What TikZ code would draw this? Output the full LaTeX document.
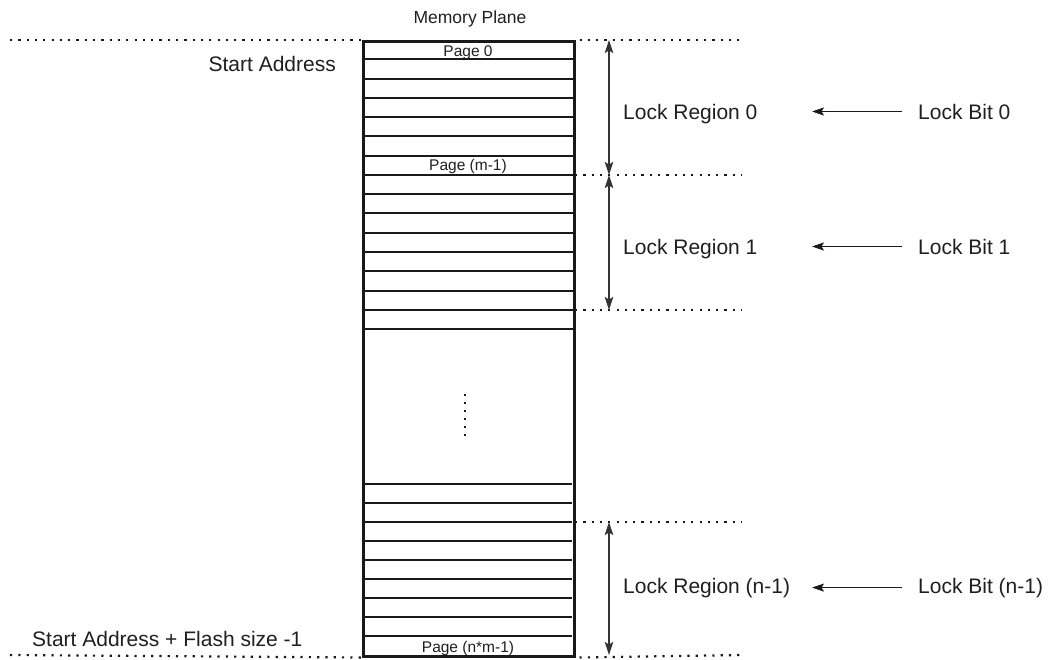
\documentclass[tikz,border=0pt]{standalone}
\usepackage{fontspec}
\setmainfont{Liberation Sans}
\usetikzlibrary{arrows.meta}
\begin{document}
\begin{tikzpicture}[x=1pt,y=-1pt,
  lbl/.style={font=\fontsize{21}{24}\selectfont, inner sep=0pt, anchor=base west, text=black!88},
  pagelbl/.style={font=\fontsize{15.5}{18}\selectfont, inner sep=0pt, anchor=base, text=black!88},
  dotline/.style={line width=2.2pt, dash pattern=on 2.2pt off 6.1pt, black!90},
  pageline/.style={line width=2pt, black!90},
  dimarrow/.style={line width=1.2pt, black!80, {Stealth[length=13pt,width=8.5pt,inset=2.5pt]}-{Stealth[length=13pt,width=8.5pt,inset=2.5pt]}},
  bitarrow/.style={line width=1.1pt, black!90, -{Stealth[length=12pt,width=8pt,inset=2.5pt]}}
]
\useasboundingbox (0,0) rectangle (1049,659);

% memory plane
\node[draw, line width=2.5pt, black!90, minimum width=211pt, minimum height=615pt, inner sep=0pt, anchor=north west] (plane) at (362,40) {};
\foreach \k in {1,...,15} \draw[pageline] (362,{40+\k*19.27}) -- (573,{40+\k*19.27});
\foreach \k in {1,...,9} \draw[pageline] (362,{655-\k*19}) -- (572,{655-\k*19});
\foreach \i in {0,...,5} \fill[black!90] (464,{393.5+8*\i}) rectangle ++(2.3,2.3);

% labels
\node[font=\fontsize{17.5}{20}\selectfont, inner sep=0pt, anchor=base, text=black!88] (title) at (470,23) {Memory Plane};
\node[pagelbl] (p0) at (468,56) {Page 0};
\node[pagelbl] (pm) at (468,170.5) {Page (m-1)};
\node[pagelbl] (pn) at (468,652) {Page (n*m-1)};
\node[lbl, anchor=base east] (sa) at (336,71) {Start Address};
\node[lbl] (sae) at (32,646) {Start Address + Flash size -1};

% dotted boundary lines
\coordinate (L0) at (10,40);
\coordinate (L4) at (10,655);
\coordinate (R0) at (742,40);
\coordinate (B1) at (575,175);
\coordinate (R1) at (742,175);
\coordinate (B2) at (575,310);
\coordinate (R2) at (742,310);
\coordinate (B3) at (575,522);
\coordinate (R3) at (742,522);
\coordinate (R4) at (742,655);
\draw[dotline] (L0) -- (plane.north west);
\draw[dotline] (L4) -- (plane.south west);
\draw[dotline] ([xshift=4pt]plane.north east) -- (R0);
\draw[dotline] (B1) -- (R1);
\draw[dotline] (B2) -- (R2);
\draw[dotline] (B3) -- (R3);
\draw[dotline] ([xshift=4pt]plane.south east) -- (R4);

% lock region extents
\coordinate (a0) at (609,40);
\coordinate (a1) at (609,175);
\coordinate (a2) at (609,310);
\coordinate (a3) at (609,522);
\coordinate (a4) at (609,655);
\draw[dimarrow] (a0) -- (a1);
\draw[dimarrow] (a1) -- (a2);
\draw[dimarrow] (a3) -- (a4);

% lock regions and bits
\node[lbl] (lr0) at (623,119) {Lock Region 0};
\node[lbl] (lr1) at (623,254) {Lock Region 1};
\node[lbl] (lrn) at (623,593) {Lock Region (n-1)};
\node[lbl] (lb0) at (918,119) {Lock Bit 0};
\node[lbl] (lb1) at (918,254) {Lock Bit 1};
\node[lbl] (lbn) at (918,593) {Lock Bit (n-1)};
\coordinate (tip) at (812,0);
\draw[bitarrow, shorten <=16pt] (lb0.west) -- (lb0.west -| tip);
\draw[bitarrow, shorten <=16pt] (lb1.west) -- (lb1.west -| tip);
\draw[bitarrow, shorten <=16pt] (lbn.west) -- (lbn.west -| tip);
\end{tikzpicture}
\end{document}
